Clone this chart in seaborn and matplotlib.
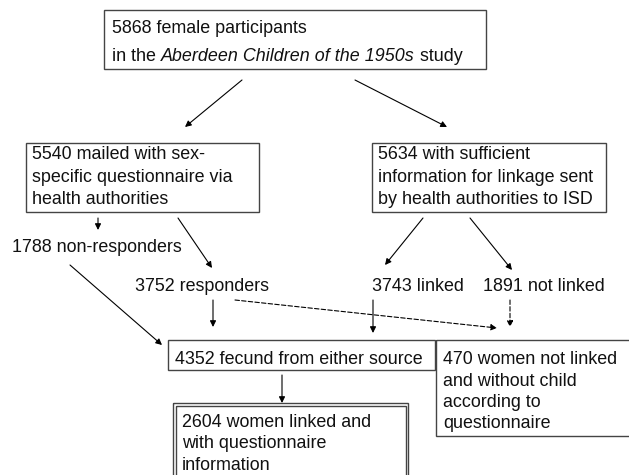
import matplotlib
matplotlib.use("Agg")
import matplotlib.pyplot as plt
from matplotlib.patches import Rectangle
import seaborn as sns

sns.set_theme(style="white")
plt.rcParams['font.family'] = ['Liberation Sans', 'DejaVu Sans']

# ---- data (counts and labels of the flow chart) ----
counts = [5868, 5540, 5634, 1788, 3752, 3743, 1891, 4352, 470, 2604]
top_lines = ["female participants"]
left_lines = ["mailed with sex-", "specific questionnaire via", "health authorities"]
right_lines = ["with sufficient", "information for linkage sent", "by health authorities to ISD"]
nonresp_label = "non-responders"
resp_label = "responders"
linked_label = "linked"
notlinked_label = "not linked"
fecund_label = "fecund from either source"
excl_lines = ["women not linked", "and without child", "according to", "questionnaire"]
final_lines = ["women linked and", "with questionnaire", "information"]

# ---- figure in pixel coordinates ----
W, H = 629, 475
fig = plt.figure(figsize=(W / 100, H / 100), dpi=100)
ax = fig.add_axes([0, 0, 1, 1])
ax.set_xlim(0, W)
ax.set_ylim(H, 0)
ax.axis('off')

FS = 12.85
TXT = '#111111'
EDGE = '#444444'


def box(x0, y0, x1, y1, lw=1.0):
    ax.add_patch(Rectangle((x0, y0), x1 - x0, y1 - y0, fill=False,
                           edgecolor=EDGE, lw=lw, clip_on=False))


def lines(x, ys, texts):
    for y, t in zip(ys, texts):
        ax.text(x, y, t, fontsize=FS, color=TXT, ha='left', va='baseline')


def arrow(p0, p1, dashed=False):
    ax.annotate('', xy=p1, xytext=p0,
                arrowprops=dict(arrowstyle='-|>', color='black', lw=0.8,
                                mutation_scale=9, shrinkA=0, shrinkB=0,
                                linestyle=(0, (4, 2)) if dashed else '-'))


# top box
box(104, 10, 486, 69)
ax.text(112, 33, f"{counts[0]} {top_lines[0]}", fontsize=FS, color=TXT, va='baseline')
t1 = ax.text(112, 61, "in the ", fontsize=FS, color=TXT, va='baseline')
t2 = ax.annotate("Aberdeen Children of the 1950s", xy=(1, 0), xycoords=t1,
                 fontsize=FS, color=TXT, style='italic', va='bottom', ha='left')
ax.annotate(" study", xy=(1, 0), xycoords=t2, fontsize=FS, color=TXT,
            va='bottom', ha='left')

# second level boxes
box(26, 143, 259, 212)
lines(32, [159, 181.5, 204], [f"{counts[1]} {left_lines[0]}"] + left_lines[1:])
box(372, 143, 606, 212)
lines(378, [159, 181.5, 204], [f"{counts[2]} {right_lines[0]}"] + right_lines[1:])

# free labels
lines(12, [252], [f"{counts[3]} {nonresp_label}"])
lines(135, [291], [f"{counts[4]} {resp_label}"])
lines(372, [291], [f"{counts[5]} {linked_label}"])
lines(483, [291], [f"{counts[6]} {notlinked_label}"])

# fecund box
box(168, 340, 435, 370)
lines(175, [364], [f"{counts[7]} {fecund_label}"])

# excluded box (extends past the right edge)
box(436, 340, 660, 436)
lines(443, [364, 385.5, 407, 428.5], [f"{counts[8]} {excl_lines[0]}"] + excl_lines[1:])

# final double-bordered box
box(173, 403, 408, 520)
box(175.5, 405.5, 405.5, 520)
lines(182, [427, 448.5, 470], [f"{counts[9]} {final_lines[0]}"] + final_lines[1:])

# arrows
arrow((242, 80), (185, 127))
arrow((355, 80), (447, 127))
arrow((98, 218), (98, 230))
arrow((178, 218), (212, 268))
arrow((70, 265), (162, 345))
arrow((423, 218), (385, 265))
arrow((470, 218), (512, 270))
arrow((213, 300), (213, 327))
arrow((373, 300), (373, 333))
arrow((235, 300), (497, 328), dashed=True)
arrow((510, 300), (510, 327), dashed=True)
arrow((282, 375), (282, 403))

fig.savefig("out.png", dpi=100, facecolor='white')
